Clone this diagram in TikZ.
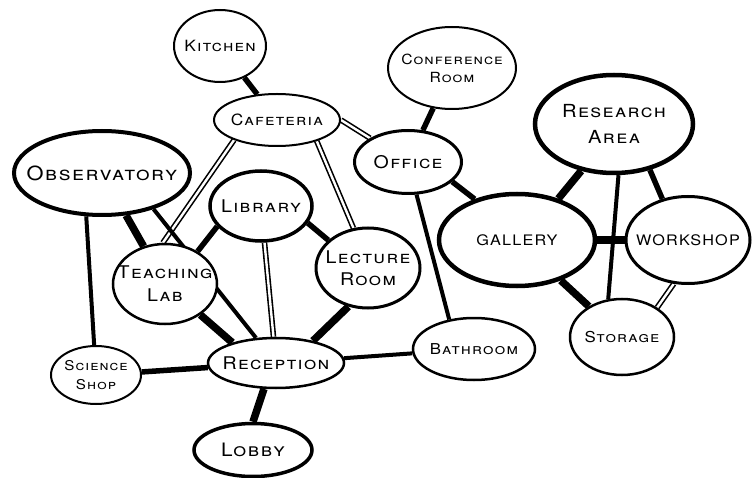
\documentclass[tikz,border=0pt]{standalone}
\usepackage{fontspec}
\setmainfont{TeX Gyre Heros}[FakeStretch=1.12, LetterSpace=8]
\usetikzlibrary{shapes.geometric, backgrounds}

\begin{document}
\begin{tikzpicture}[
		x=1pt, y=-1pt,
		room/.style={draw, ellipse, fill=white, inner xsep=-20pt, inner ysep=0pt, align=center},
		fs/.style 2 args={font=\fontsize{#1}{#2}\selectfont\scshape},
		link/.style={line width=4pt},
		strong/.style={line width=5.5pt},
		heavy/.style={line width=7.5pt},
		hollow/.style={double, line width=1.6pt, double distance=2.4pt}
	]
	\useasboundingbox (0,0) rectangle (752,478);

	% Rooms
	\node[room, line width=2pt, minimum width=92, minimum height=72, fs={15.5}{18}] (kitchen) at (220,46) {Kitchen};
	\node[room, line width=2pt, minimum width=126, minimum height=52, fs={15.5}{18}] (cafeteria) at (277,120) {Cafeteria};
	\node[room, line width=2pt, minimum width=128, minimum height=82, fs={14}{18}] (conference) at (452,68) {Conference\\Room};
	\node[room, line width=3pt, minimum width=107, minimum height=63, fs={17.5}{20}] (office) at (408,162) {Office};
	\node[room, line width=4pt, minimum width=176, minimum height=84, fs={19.5}{22}] (observatory) at (102,173) {Observatory};
	\node[room, line width=4.5pt, minimum width=158, minimum height=98, fs={18}{26}] (research) at (614,124) {Research\\Area};
	\node[room, line width=3.5pt, minimum width=102, minimum height=70, fs={17.5}{20}] (library) at (261,206) {Library};
	\node[room, line width=4.5pt, minimum width=156, minimum height=92, fs={14.5}{17}] (gallery) at (517,240) {GALLERY};
	\node[room, line width=3pt, minimum width=124, minimum height=87, fs={14.5}{17}] (workshop) at (688,240) {WORKSHOP};
	\node[room, line width=2.5pt, minimum width=104, minimum height=80, fs={17.5}{23}] (teaching) at (165,284) {Teaching\\Lab};
	\node[room, line width=3pt, minimum width=104, minimum height=80, fs={17.5}{22}] (lecture) at (368,268) {Lecture\\Room};
	\node[room, line width=2.5pt, minimum width=136, minimum height=50, fs={17.5}{20}] (reception) at (276,363) {Reception};
	\node[room, line width=2pt, minimum width=90, minimum height=58, fs={13.5}{19}] (shop) at (96,375) {Science\\Shop};
	\node[room, line width=2.5pt, minimum width=122, minimum height=62, fs={15}{18}] (bathroom) at (474,349) {Bathroom};
	\node[room, line width=2.5pt, minimum width=104, minimum height=76, fs={15}{18}] (storage) at (622,337) {Storage};
	\node[room, line width=3.5pt, minimum width=118, minimum height=53, fs={18.5}{21}] (lobby) at (253,450) {Lobby};

	% Corridors
	\begin{scope}[on background layer]
		\draw[strong] (kitchen) -- (cafeteria);
		\draw[hollow] (cafeteria.east) -- (office);
		\draw[hollow] (cafeteria.205) -- (teaching.93);
		\draw[hollow] (cafeteria.-28) -- (lecture.110);
		\draw[strong] (conference) -- (office);
		\draw[strong] (office.-24) -- (gallery.136);
		\draw[link] (office) -- (bathroom.130);
		\draw[heavy] (observatory) -- (teaching);
		\draw[link] (observatory.-35) -- (reception);
		\draw[link] (observatory.250) -- (shop);
		\draw[strong] (library.205) -- (teaching.45);
		\draw[hollow] (library) -- (reception);
		\draw[strong] (library.-20) -- (lecture.145);
		\draw[heavy] (teaching) -- (reception.155);
		\draw[heavy] (lecture.243) -- (reception.31);
		\draw[heavy] (reception.245) -- (lobby.north);
		\draw[strong] (reception) -- (shop);
		\draw[link] (reception) -- (bathroom);
		\draw[heavy] (gallery.45) -- (research.235);
		\draw[heavy] (gallery) -- (workshop);
		\draw[heavy] (gallery) -- (storage);
		\draw[link] (research.275) -- (storage.110);
		\draw[strong] (research.-52) -- (workshop.122);
		\draw[hollow] (workshop.252) -- (storage.40); % double corridor
	\end{scope}

\end{tikzpicture}
\end{document}
